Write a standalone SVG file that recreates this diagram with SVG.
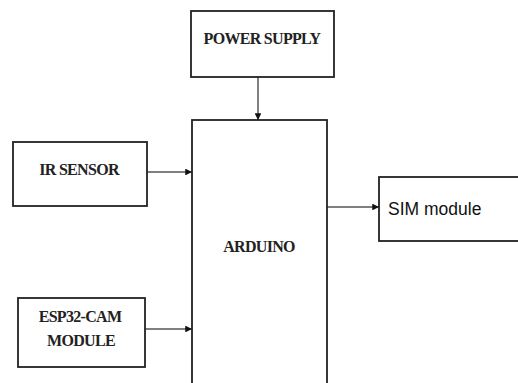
<svg xmlns="http://www.w3.org/2000/svg" width="518" height="383" viewBox="0 0 518 383">
<style>
.box{fill:#fff;stroke:#222;stroke-width:1.8}
.lbl{font-family:"Liberation Serif","Times New Roman",serif;font-weight:bold;font-size:16px;fill:#222;text-anchor:middle;letter-spacing:-0.7px}
.sans{font-family:"Liberation Sans",Arial,sans-serif;font-size:17.5px;fill:#111}
.conn{stroke:#555;stroke-width:1.5;fill:none;marker-end:url(#ah)}
</style>
<defs>
<marker id="ah" viewBox="0 0 10 10" refX="10" refY="5" markerWidth="4.5" markerHeight="4.5" orient="auto" markerUnits="strokeWidth">
<path d="M0,0 L10,5 L0,10 Z" fill="#111"/>
</marker>
</defs>
<rect width="518" height="383" fill="#fff"/>
<g id="connectors">
<line class="conn" x1="258" y1="77" x2="258" y2="120"/>
<line class="conn" x1="147" y1="172" x2="192" y2="172"/>
<line class="conn" x1="145" y1="329" x2="192" y2="329"/>
<line class="conn" x1="327" y1="207" x2="379" y2="207"/>
</g>
<g id="power-supply">
<rect class="box" x="191" y="11" width="143" height="66"/>
<text class="lbl" x="262" y="44">POWER SUPPLY</text>
</g>
<g id="arduino">
<rect class="box" x="192" y="120" width="135" height="280"/>
<text class="lbl" x="259" y="252">ARDUINO</text>
</g>
<g id="ir-sensor">
<rect class="box" x="13" y="142" width="134" height="64"/>
<text class="lbl" x="79" y="175">IR SENSOR</text>
</g>
<g id="esp32-cam">
<rect class="box" x="18" y="298" width="127" height="69"/>
<text class="lbl" x="80" y="322">ESP32-CAM</text>
<text class="lbl" x="81" y="346">MODULE</text>
</g>
<g id="sim-module">
<rect class="box" x="379" y="177" width="150" height="64"/>
<text class="sans" x="388" y="215">SIM module</text>
</g>
</svg>
